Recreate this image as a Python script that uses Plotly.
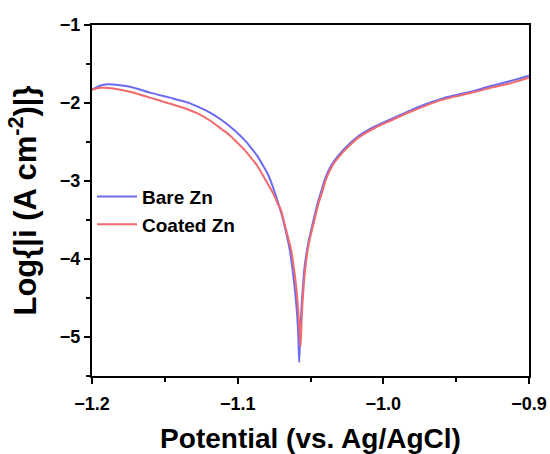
import plotly.graph_objects as go

# Tafel polarisation curves: potential (V vs. Ag/AgCl) and log10 of |current density|
bare_potential = [-1.2000, -1.1945, -1.1890, -1.1808, -1.1739, -1.1602, -1.1465, -1.1341,
                  -1.1259, -1.1190, -1.1115, -1.1053, -1.0998, -1.0950, -1.0916, -1.0868,
                  -1.0827, -1.0792, -1.0765, -1.0744, -1.0724, -1.0703, -1.0683, -1.0662,
                  -1.0641, -1.0628, -1.0614, -1.0600, -1.0590, -1.0583, -1.0578,
                  -1.0573, -1.0567, -1.0560, -1.0552, -1.0542, -1.0528, -1.0514, -1.0497,
                  -1.0484, -1.0449, -1.0422, -1.0401, -1.0353, -1.0284, -1.0230, -1.0175,
                  -1.0058, -0.9955, -0.9832, -0.9715, -0.9598, -0.9488, -0.9372, -0.9255,
                  -0.9145, -0.9001]
bare_logi = [-1.829, -1.778, -1.761, -1.772, -1.791, -1.867, -1.931, -1.995,
             -2.059, -2.122, -2.212, -2.301, -2.390, -2.480, -2.556, -2.671,
             -2.798, -2.913, -3.041, -3.156, -3.270, -3.398, -3.538, -3.704,
             -3.895, -4.061, -4.278, -4.533, -4.763, -5.018, -5.324,
             -5.082, -4.827, -4.571, -4.355, -4.125, -3.934, -3.781, -3.640,
             -3.538, -3.270, -3.105, -2.977, -2.786, -2.620, -2.518, -2.429,
             -2.301, -2.212, -2.110, -2.020, -1.944, -1.893, -1.842, -1.778,
             -1.727, -1.651]

coated_potential = [-1.2000, -1.1938, -1.1842, -1.1739, -1.1602, -1.1465, -1.1341, -1.1259,
                    -1.1190, -1.1115, -1.1053, -1.0998, -1.0950, -1.0916, -1.0868, -1.0827,
                    -1.0792, -1.0765, -1.0744, -1.0724, -1.0703, -1.0676, -1.0655, -1.0634,
                    -1.0621, -1.0607, -1.0593, -1.0583, -1.0574, -1.0568,
                    -1.0562, -1.0555, -1.0547, -1.0536, -1.0523, -1.0509, -1.0492, -1.0478,
                    -1.0444, -1.0416, -1.0396, -1.0348, -1.0279, -1.0224, -1.0169, -1.0053,
                    -0.9948, -0.9825, -0.9708, -0.9591, -0.9482, -0.9365, -0.9248, -0.9139,
                    -0.9001]
coated_logi = [-1.829, -1.804, -1.816, -1.855, -1.931, -2.008, -2.084, -2.148,
               -2.224, -2.327, -2.416, -2.518, -2.607, -2.684, -2.798, -2.926,
               -3.041, -3.130, -3.207, -3.296, -3.372, -3.564, -3.717, -3.870,
               -4.023, -4.214, -4.457, -4.699, -4.929, -5.120,
               -4.827, -4.571, -4.355, -4.125, -3.934, -3.781, -3.640, -3.538,
               -3.283, -3.117, -2.990, -2.798, -2.633, -2.531, -2.441, -2.314,
               -2.224, -2.122, -2.033, -1.957, -1.906, -1.855, -1.797, -1.753,
               -1.676]

FONT = "Arial, 'Liberation Sans', sans-serif"

fig = go.Figure()
fig.add_trace(go.Scatter(x=bare_potential, y=bare_logi, mode="lines", name="Bare Zn",
                         line=dict(color="#6b6bef", width=2, shape="spline", smoothing=0.8)))
fig.add_trace(go.Scatter(x=coated_potential, y=coated_logi, mode="lines", name="Coated Zn",
                         line=dict(color="#f06a6e", width=2, shape="spline", smoothing=0.8)))

axis_common = dict(
    showgrid=False, zeroline=False, showline=True, linecolor="black", linewidth=2,
    mirror=True, ticks="outside", ticklen=6, tickwidth=2, tickcolor="black",
    automargin=False,
    tickfont=dict(family=FONT, size=18, color="black", weight="bold"),
)

fig.update_xaxes(
    range=[-1.2, -0.9], dtick=0.1, tick0=-1.2, tickformat=".1f", ticklabelstandoff=4,
    minor=dict(ticks="outside", ticklen=4, tickwidth=2, dtick=0.05, tickcolor="black"),
    title=dict(text="Potential (vs. Ag/AgCl)", standoff=16,
               font=dict(family=FONT, size=28, color="black", weight="bold")),
    **axis_common,
)
fig.update_yaxes(
    range=[-5.5, -1], dtick=1, tick0=-1,
    minor=dict(ticks="outside", ticklen=4, tickwidth=2, dtick=0.5, tickcolor="black"),
    title=dict(text="Log{|i (A cm<sup>-2</sup>)|}", standoff=14,
               font=dict(family=FONT, size=31, color="black", weight="bold")),
    **axis_common,
)

fig.update_layout(
    width=550, height=454,
    margin=dict(l=92, r=21, t=25, b=78),
    plot_bgcolor="white", paper_bgcolor="white",
    showlegend=True,
    legend=dict(x=0.0, y=0.565, xanchor="left", yanchor="top",
                bgcolor="rgba(0,0,0,0)", tracegroupgap=0, itemwidth=40,
                font=dict(family=FONT, size=19, color="black", weight="bold")),
)

fig.write_html("out.html")
